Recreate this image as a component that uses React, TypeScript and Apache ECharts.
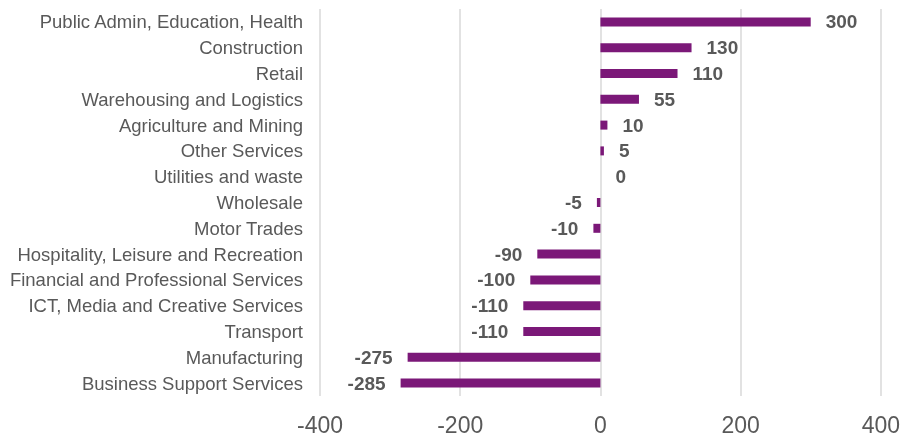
import React, { useEffect, useRef } from "react";
import * as echarts from "echarts";

const categories = [
  "Public Admin, Education, Health",
  "Construction",
  "Retail",
  "Warehousing and Logistics",
  "Agriculture and Mining",
  "Other Services",
  "Utilities and waste",
  "Wholesale",
  "Motor Trades",
  "Hospitality, Leisure and Recreation",
  "Financial and Professional Services",
  "ICT, Media and Creative Services",
  "Transport",
  "Manufacturing",
  "Business Support Services",
];

const values = [300, 130, 110, 55, 10, 5, 0, -5, -10, -90, -100, -110, -110, -275, -285];

const xTicks = [-400, -200, 0, 200, 400];

export default function App() {
  const ref = useRef<HTMLDivElement>(null);
  useEffect(() => {
    if (!ref.current) return;
    const chart = echarts.init(ref.current, undefined, { renderer: "svg" });
    const font = "'Liberation Sans', Arial, sans-serif";
    chart.setOption({
      animation: false,
      grid: { left: 320, right: 19, top: 9, bottom: 39, containLabel: false },
      xAxis: {
        type: "value",
        min: xTicks[0],
        max: xTicks[xTicks.length - 1],
        interval: 200,
        axisLine: { show: false },
        axisTick: { show: false },
        splitLine: { show: true, lineStyle: { color: "#d9d9d9", width: 1.5 } },
        axisLabel: { fontFamily: font, fontSize: 23, color: "#595959", margin: 17 },
      },
      yAxis: {
        type: "category",
        data: categories,
        inverse: true,
        axisLine: { show: false },
        axisTick: { show: false },
        splitLine: { show: false },
        axisLabel: { fontFamily: font, fontSize: 18.5, color: "#595959", margin: 17 },
      },
      series: [
        {
          type: "bar",
          barWidth: 9,
          itemStyle: { color: "#7b1878" },
          data: values.map((v) => ({
            value: v,
            label: {
              show: true,
              position: v >= 0 ? "right" : "left",
              distance: 15,
              formatter: String(v),
              fontFamily: font,
              fontSize: 19,
              fontWeight: "bold",
              color: "#595959",
            },
          })),
        },
      ],
    });
    return () => chart.dispose();
  }, []);
  return (
    <div
      ref={ref}
      style={{ position: "fixed", left: 0, top: 0, width: 903, height: 436 }}
    />
  );
}
